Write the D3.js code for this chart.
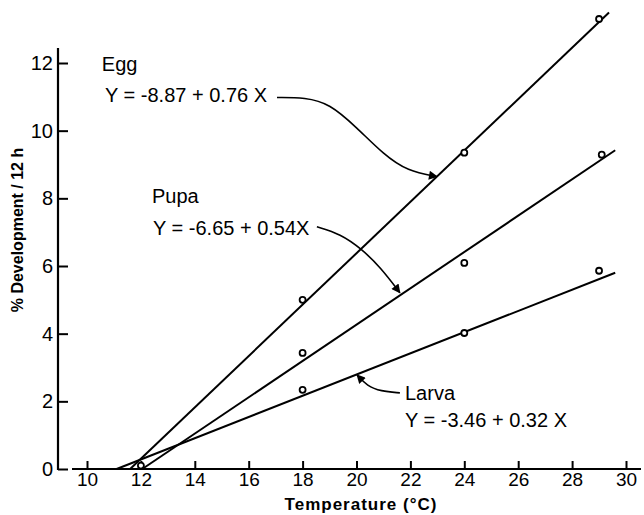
<!DOCTYPE html>
<html>
<head>
<meta charset="utf-8">
<script src="https://cdn.jsdelivr.net/npm/d3@7"></script>
<style>
  body { margin: 0; background: #fff; }
  svg { display: block; }
  text { font-family: "Liberation Sans", Arial, sans-serif; fill: #000; }
</style>
</head>
<body>
<div id="chart"></div>
<script>
// tick values
var xTicks = [10, 12, 14, 16, 18, 20, 22, 24, 26, 28, 30];
var yTicks = [0, 2, 4, 6, 8, 10, 12];

// observed points (temperature, % development per 12 h)
var eggPts   = [[12, 0.1], [18, 5.0], [24, 9.35], [29, 13.3]];
var pupaPts  = [[18, 3.43], [24, 6.09], [29.1, 9.29]];
var larvaPts = [[18, 2.34], [24, 4.02], [29, 5.86]];

// fitted lines, start and end as drawn
var eggLine   = [[11.6, 0], [29.37, 13.49]];
var pupaLine  = [[12.05, 0], [29.6, 9.42]];
var larvaLine = [[11.1, 0], [29.6, 5.8]];

// labels
var labels = [
  {name: "Egg",   eq: "Y = -8.87 + 0.76 X", at: [10.55, 11.75], eqAt: [10.67, 10.85]},
  {name: "Pupa",  eq: "Y = -6.65 + 0.54X",  at: [12.41, 7.85],  eqAt: [12.45, 6.93]},
  {name: "Larva", eq: "Y = -3.46 + 0.32 X", at: [21.8, 2.04],   eqAt: [21.8, 1.24]}
];

// arrow paths from label to line
var eggArrow   = [[17.05, 10.98], [18.1, 10.98], [19.0, 10.8], [20.0, 10.1], [21.0, 9.3], [21.9, 8.8], [22.99, 8.64]];
var pupaArrow  = [[18.53, 7.16], [19.4, 6.95], [20.2, 6.5], [20.9, 5.95], [21.61, 5.21]];
var larvaArrow = [[21.61, 2.25], [20.9, 2.3], [20.4, 2.45], [20.02, 2.78]];

var width = 644, height = 515;

var svg = d3.select("#chart")
  .append("svg")
    .attr("width", width)
    .attr("height", height);

var x = d3.scaleLinear().domain([10, 30]).range([87, 626]);
var y = d3.scaleLinear().domain([0, 12]).range([469, 63]);

// arrow head
svg.append("defs").append("marker")
    .attr("id", "head")
    .attr("viewBox", "0 0 10 10")
    .attr("refX", 9)
    .attr("refY", 5)
    .attr("markerWidth", 11)
    .attr("markerHeight", 9)
    .attr("markerUnits", "userSpaceOnUse")
    .attr("orient", "auto")
  .append("path")
    .attr("d", "M0,0 L10,5 L0,10 Z")
    .attr("fill", "#000");

// y axis
var yAxis = svg.append("g")
  .attr("transform", "translate(58,0)")
  .call(d3.axisLeft(y).tickValues(yTicks).tickSizeInner(-10).tickSizeOuter(0).tickPadding(5));
yAxis.select(".domain").remove();
yAxis.selectAll("line").attr("stroke", "#000").attr("stroke-width", 2);
yAxis.selectAll("text").style("font-size", "20px").attr("font-family", null);

svg.append("line")
  .attr("x1", 58).attr("x2", 58)
  .attr("y1", 48).attr("y2", y(0) + 1)
  .attr("stroke", "#000").attr("stroke-width", 2.2);

// x axis
var xAxis = svg.append("g")
  .attr("transform", "translate(0," + y(0) + ")")
  .call(d3.axisBottom(x).tickValues(xTicks).tickSizeInner(-8).tickSizeOuter(0).tickPadding(3));
xAxis.select(".domain").remove();
xAxis.selectAll("line").attr("stroke", "#000").attr("stroke-width", 2);
xAxis.selectAll("text").style("font-size", "19px").attr("font-family", null);

svg.append("line")
  .attr("x1", 72).attr("x2", 641)
  .attr("y1", y(0)).attr("y2", y(0))
  .attr("stroke", "#000").attr("stroke-width", 2.2);

// axis titles
svg.append("text")
  .attr("x", 361)
  .attr("y", 510)
  .attr("text-anchor", "middle")
  .style("font-size", "17px")
  .style("font-weight", "bold")
  .style("letter-spacing", "1px")
  .text("Temperature (°C)");

svg.append("text")
  .attr("transform", "translate(23,230) rotate(-90)")
  .attr("text-anchor", "middle")
  .style("font-size", "16px")
  .style("font-weight", "bold")
  .text("% Development / 12 h");

// fitted lines
var seg = d3.line().x(function(d) { return x(d[0]); }).y(function(d) { return y(d[1]); });
[eggLine, pupaLine, larvaLine].forEach(function(l) {
  svg.append("path")
    .attr("d", seg(l))
    .attr("fill", "none")
    .attr("stroke", "#000")
    .attr("stroke-width", 2);
});

// observed points
[eggPts, pupaPts, larvaPts].forEach(function(pts) {
  svg.selectAll(null)
    .data(pts)
    .enter()
    .append("circle")
      .attr("cx", function(d) { return x(d[0]); })
      .attr("cy", function(d) { return y(d[1]); })
      .attr("r", 3)
      .attr("fill", "#fff")
      .attr("stroke", "#000")
      .attr("stroke-width", 1.8);
});

// annotation arrows
var curve = d3.line()
  .x(function(d) { return x(d[0]); })
  .y(function(d) { return y(d[1]); })
  .curve(d3.curveBasis);
[eggArrow, pupaArrow, larvaArrow].forEach(function(a) {
  svg.append("path")
    .attr("d", curve(a))
    .attr("fill", "none")
    .attr("stroke", "#000")
    .attr("stroke-width", 1.6)
    .attr("marker-end", "url(#head)");
});

// labels and equations
labels.forEach(function(l) {
  svg.append("text")
    .attr("x", x(l.at[0]))
    .attr("y", y(l.at[1]))
    .style("font-size", "20px")
    .text(l.name);
  svg.append("text")
    .attr("x", x(l.eqAt[0]))
    .attr("y", y(l.eqAt[1]))
    .style("font-size", "20px")
    .text(l.eq);
});
</script>
</body>
</html>
